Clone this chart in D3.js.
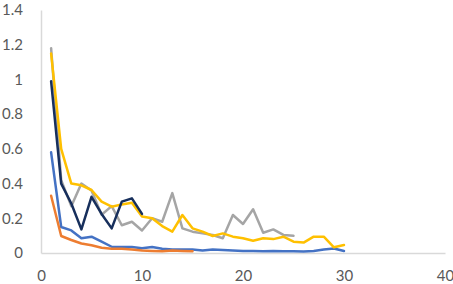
<!DOCTYPE html>
<html>
<head>
<meta charset="utf-8">
<script src="https://cdn.jsdelivr.net/npm/d3@7"></script>
<style>
html,body{margin:0;padding:0;background:#fff;}
svg{display:block;}
</style>
</head>
<body>
<svg id="chart" width="453" height="284"></svg>
<script>
const xTicks = [0, 10, 20, 30, 40];
const yTicks = [0, 0.2, 0.4, 0.6, 0.8, 1, 1.2, 1.4];

const blueValues = [0.58, 0.15, 0.13, 0.085, 0.094, 0.065, 0.036, 0.035, 0.035, 0.028, 0.035, 0.025, 0.02, 0.02, 0.02, 0.015, 0.02, 0.018, 0.015, 0.012, 0.012, 0.01, 0.012, 0.01, 0.01, 0.008, 0.012, 0.02, 0.026, 0.012];
const orangeValues = [0.33, 0.098, 0.075, 0.055, 0.045, 0.03, 0.025, 0.025, 0.02, 0.015, 0.012, 0.01, 0.015, 0.012, 0.01];
const grayValues = [1.18, 0.42, 0.27, 0.40, 0.36, 0.22, 0.27, 0.16, 0.18, 0.13, 0.20, 0.18, 0.345, 0.142, 0.123, 0.113, 0.104, 0.085, 0.219, 0.167, 0.252, 0.117, 0.136, 0.104, 0.10];
const yellowValues = [1.15, 0.60, 0.40, 0.39, 0.363, 0.296, 0.267, 0.28, 0.29, 0.21, 0.20, 0.155, 0.123, 0.219, 0.142, 0.123, 0.098, 0.113, 0.094, 0.085, 0.071, 0.085, 0.08, 0.094, 0.065, 0.06, 0.094, 0.094, 0.033, 0.046];
const navyValues = [0.99, 0.40, 0.285, 0.136, 0.324, 0.225, 0.142, 0.296, 0.315, 0.225];

const seriesList = [
  {name: "blue", values: blueValues, color: "#4472C4"},
  {name: "orange", values: orangeValues, color: "#ED7D31"},
  {name: "gray", values: grayValues, color: "#A5A5A5"},
  {name: "yellow", values: yellowValues, color: "#FFC000"},
  {name: "navy", values: navyValues, color: "#172F5C"}
];

const svg = d3.select("#chart");
const x = d3.scaleLinear().domain([0, 40]).range([41, 445]);
const y = d3.scaleLinear().domain([0, 1.4]).range([253, 10]);

const font = "Lato, 'Open Sans', sans-serif";

// y axis
const yAxis = svg.append("g").attr("transform", `translate(${x(0)},0)`)
  .call(d3.axisLeft(y).tickValues(yTicks).tickSize(0).tickPadding(18)
    .tickFormat(d => String(+d.toFixed(1))));
yAxis.select(".domain").attr("stroke", "#D9D9D9").attr("stroke-width", 1.5);
yAxis.selectAll("text").attr("fill", "#595959").style("font-family", font).style("font-size", "15px");

// x axis
const xAxis = svg.append("g").attr("transform", `translate(0,${y(0)})`)
  .call(d3.axisBottom(x).tickValues(xTicks).tickSize(0).tickPadding(17));
xAxis.select(".domain").attr("stroke", "#D9D9D9").attr("stroke-width", 1.5);
xAxis.selectAll("text").attr("fill", "#595959").style("font-family", font).style("font-size", "15px");

const line = d3.line().x((d, i) => x(i + 1)).y(d => y(d));

svg.append("g").selectAll("path").data(seriesList).join("path")
  .attr("d", s => line(s.values))
  .attr("fill", "none")
  .attr("stroke", s => s.color)
  .attr("stroke-width", 2.5)
  .attr("stroke-linejoin", "round")
  .attr("stroke-linecap", "round");
</script>
</body>
</html>
